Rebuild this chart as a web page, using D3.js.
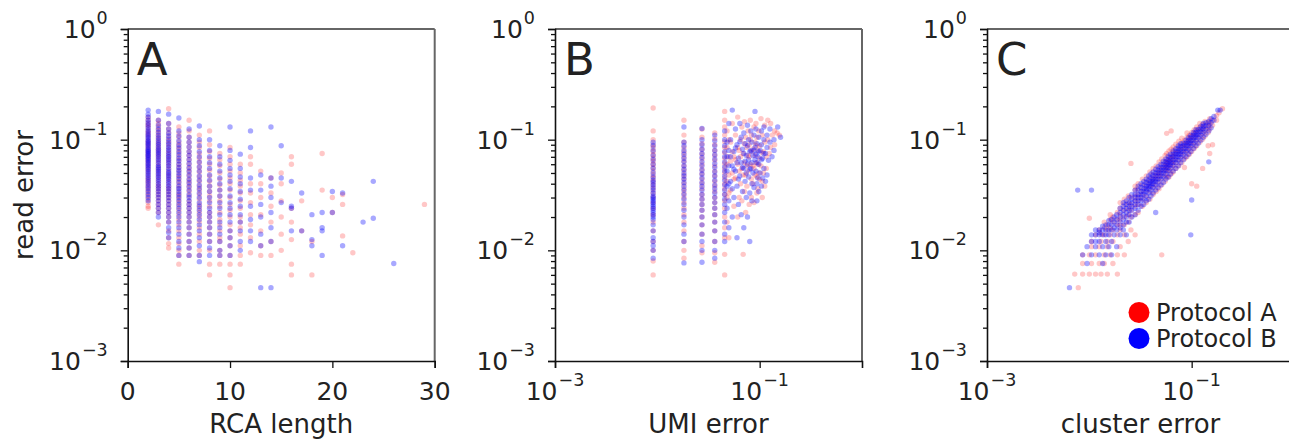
<!DOCTYPE html>
<html>
<head>
<meta charset="utf-8">
<script src="https://cdn.jsdelivr.net/npm/d3@7"></script>
<style>
body { margin: 0; background: #fff; }
text { font-family: "DejaVu Sans", Verdana, sans-serif; fill: #222; }
</style>
</head>
<body>
<svg id="chart" width="1289" height="444"></svg>
<script>
// read error values are in units of 1e-3 (per mille), columns are [x, [y, y, ...]]

// A: RCA length vs read error
var rcaProtoA = [
  [2, [160,150,140,135,128,120,115,110,104,98,94,90,86,82,78,75,72,69,66,63,60,57,54,51,48,45,43,41,39,37,35,33,31,29,27,25,24]],
  [3, [150,140,130,122,115,108,102,96,91,86,82,78,74,70,66,62,58,55,52,49,46,43,40,38,36,34,32,30,28,26,24,22,17]],
  [4, [190,140,125,115,105,98,92,86,80,75,70,66,62,58,54,50,47,44,41,38,36,34,32,30,28,26,24,22,20,18,15,13,11.5,10.5]],
  [5, [130,115,105,95,88,82,76,70,65,60,56,52,48,45,42,39,36,33,31,29,27,25,23,21,19,17,15,13,11.5,10,9,7.5]],
  [6, [150,120,105,95,86,78,72,66,60,55,51,47,43,40,37,34,31,28,26,24,22,20,18,16,14,12,10.5,9]],
  [7, [110,95,85,75,68,62,56,51,46,42,38,35,32,29,26,24,22,20,18,16,14,12,10,9]],
  [8, [120,90,78,68,60,53,47,42,38,34,31,28,25,22,20,18,16,14,12,10,7.5,6]],
  [9, [75,66,58,50,44,39,35,31,28,25,22,19,17,15,13,12,10,9,7.5]],
  [10, [85,70,60,52,45,40,35,30,26,23,20,17,15,13,11,9,7.5,6,4.6]],
  [11, [60,50,43,38,33,28,24,20,18,16,14,11,9,7.5]],
  [12, [70,60,40,33,27,21,17,13,9.5]],
  [13, [52,40,30,21,15,11,9]],
  [14, [45,33,25,18,12,9]],
  [15, [50,40,28,20,14,10]],
  [16, [70,60,24,18,12.5,7.5,6]],
  [17, [28,15]],
  [18, [12,6]],
  [19, [75,35]],
  [20, [30,22]],
  [21, [32,26,13.5]],
  [22, [9.5]],
  [29, [26]]
];
var rcaProtoB = [
  [2, [185,170,160,150,142,135,128,122,117,112,108,104,100,97,94,91,88,85,82,80,78,76,74,72,70,68,66,64,62,60,58,56,54,52,50,48,46,44,42,40,38,36,34,32,30,28]],
  [3, [180,150,135,125,117,110,104,99,94,90,86,82,79,76,73,70,67,64,61,58,56,54,52,50,48,46,44,42,40,38,36,34,32,30,28,26,24,22,20]],
  [4, [170,140,125,115,108,101,95,90,85,81,77,73,70,67,64,61,58,55,52,50,48,46,44,42,40,38,36,34,32,30,28,26,24,22,20,18,16,14.5,13]],
  [5, [157,120,108,98,90,84,78,73,68,64,60,56,53,50,47,44,41,38,36,34,32,30,28,26,24,22,20,18,16,14,12,10.5,9]],
  [6, [125,105,95,86,78,72,66,61,56,52,48,44,41,38,35,32,30,28,26,24,22,20,18,16,14,12,10.5,9]],
  [7, [133,100,88,78,70,63,57,52,47,43,39,36,33,30,27,25,23,21,19,17,15,13,11,9,7.9]],
  [8, [100,80,70,62,55,48,43,38,34,30,27,24,22,20,18,16,14,12,10.5,9]],
  [9, [88,70,60,52,45,40,35,31,27,24,21,18,16,14,12,10,9]],
  [10, [130,80,65,55,48,42,36,31,27,24,21,18,15,13,11,9]],
  [11, [74,55,46,40,34,29,25,21,18,15,12,10]],
  [12, [120,85,45,35,25,19,15,12]],
  [13, [48,35,26,20,14,11,4.6]],
  [14, [130,45,38,30,22,16,12,4.6]],
  [15, [88,45,27]],
  [16, [42,25,24,15]],
  [17, [33,15]],
  [18, [21,12.5,11]],
  [19, [22,16,15,9]],
  [20, [34,22]],
  [21, [33,11]],
  [23, [18]],
  [24, [42,19.5]],
  [26, [7.6]]
];

// B: UMI error (per mille) vs read error
var umiProtoA = [
  [9.1, [193,120,100,90,84,78,73,68,64,60,56,52,48,45,42,39,36,33,30,27,24,21,18,15,12,10,8,6]],
  [18.2, [150,110,95,85,77,70,64,58,53,48,44,40,36,33,30,27,24,21,18,15,12,10,8.5]],
  [27.3, [125,105,92,82,74,67,60,54,49,44,40,36,32,29,26,23,20,17,14,11,9.5]],
  [36.4, [115,102,90,80,72,65,58,52,47,42,38,34,30,27,24,21,18,15,12,9.5,7.8]],
  [45.5, [180,150,130,110,96,85,76,68,61,55,50,45,40,36,32,28,24,20,16,13,9.2,6]],
  [48, [120,85,60,42,30,18]], [50, [100,70,48,33,13]],
  [52, [95,64,35]], [54, [140,78,50]], [56, [70,44,25]], [58, [110,66,45]], [61, [160,85,60,20]],
  [63, [80,52,30]], [65, [100,70,40]], [67, [130,55,28]], [69, [75,48,9.2]], [71, [145,92,62,34]],
  [73, [105,48,22]], [75, [85,58,38]], [77, [120,72,52]], [79, [90,70,26]], [81, [150,100,60]],
  [83, [110,78,44,30]], [86, [82,58,40]], [88, [130,55,27]], [90, [95,72,48]], [92, [140,88,62]],
  [94, [105,46,33]], [96, [80,60,36]], [98, [120,50]], [100, [88,68,44]], [103, [155,58]],
  [106, [110,76,42,30]], [109, [78,50]], [112, [135,95,38]], [116, [70,55]], [120, [150,100]],
  [124, [75]], [128, [140,85]], [133, [110]], [140, [120,90]], [148, [115]], [156, [110]]
];
var umiProtoB = [
  [9.1, [95,88,80,72,66,60,55,50,46,43,41,39,37,35,33,31,30,29,28,27,26,25,24,23,22,21,20,19,17,15,13,12,11,10,8.5]],
  [18.2, [130,95,88,80,74,68,63,58,54,50,47,44,41,38,35,32,29,26,23,20,17,14,12,7.7]],
  [27.3, [126,100,90,82,75,69,63,58,53,49,45,41,38,35,32,29,26,23,20,17,14,12,10,7.8]],
  [36.4, [110,98,88,80,73,67,61,56,51,47,43,39,36,33,30,27,24,21,18,15,12,10,8.5]],
  [45.5, [120,100,88,78,70,63,57,52,47,43,39,35,32,29,26,22,18,14,12]],
  [48, [95,70,52,38,24]], [50, [140,80,58,40,28,16]],
  [52, [100,70,42]], [54, [185,58,36,20]], [56, [78,54,30]], [58, [125,84,52]], [60, [90,62,38,13]],
  [62, [68,44,26]], [64, [140,96,47]], [66, [105,62,21]], [68, [82,56,34]], [70, [115,75,55,16]],
  [72, [92,64,42]], [74, [72,50,30]], [76, [135,88,60,20]], [78, [100,66,46]], [80, [78,54,33,12]],
  [82, [120,80,55]], [84, [95,62,40,28]], [86, [72,50]], [88, [110,80,37]], [90, [180,85,66]],
  [92, [125,74,52]], [94, [92,62,40,28]], [96, [70,45]], [98, [105,78,60,34]], [101, [80,50]],
  [104, [120,90,66,38]], [107, [68,45]], [110, [130,100,75,55]], [114, [75,42]], [118, [110,85,48]],
  [122, [65]], [126, [125,95]], [132, [70]], [138, [100,80]], [150, [130]], [160, [105]]
];

// C: cluster error (per mille) vs read error
var clusterProtoA = [
  [7.2,[6.1]], [7.8,[4.6]], [8.6,[6.1,7.6,9.1]], [10,[6.1,9.1,19.5]], [10.5,[7.6,10.8,12]],
  [11.5,[6.1,9.1,13.8]], [12.5,[7.6,10.8,15.3]], [13,[6.1,12,14]], [14,[7.6,9.1,13.8,16,18]],
  [15,[6.1,10.8,12,15.3,17]], [16,[9.1,13.8,16,19,21]], [17,[7.6,12,15.3,18,20]],
  [18.8,[6.1,9.1,13.8,17,19,22]], [20,[10.8,15.3,17,19,21,24,27]], [22,[9.1,13.8,17,20,23,26,29]],
  [24,[12,18,21,24,27,31]], [25.5,[15.3,20,23,26,30,61]], [28,[13.8,21,25,28,31,35,38]],
  [30,[22,26,29,32,36,40]], [33,[25,29,32,35,39,44]], [36,[27,31,35,38,42,47]],
  [39,[29,34,38,41,45,51]], [42,[32,37,41,44,48,55]], [45,[34,39,44,47,51,58]],
  [48,[36,42,47,50,55,63]], [51,[9.1,39,45,50,54,59,67]], [55,[42,48,54,58,63,72]],
  [57,[114,46,52,57,61,66,75]], [60,[46,53,59,64,69,79]], [63,[120,49,56,62,67,72,82]],
  [66,[51,59,65,71,77,86]], [70,[55,62,69,75,81,91]], [75,[58,66,74,80,87,97]],
  [80,[62,71,79,86,93,103]], [85,[56,67,76,84,91,99]], [90,[70,80,89,96,105,115]],
  [95,[74,84,94,102,110]], [100,[40,78,89,99,107,116]], [106,[83,94,105,113,123]],
  [112,[38,88,100,111,120,130]], [120,[95,107,119,128,140]], [128,[55,101,114,126,137]],
  [135,[108,121,133,146]], [145,[88,116,130,143]], [150,[75,125,140,155]], [160,[90,135,150]],
  [175,[150,165]], [185,[175]], [200,[190]]
];
var clusterProtoB = [
  [6.4,[4.6]], [7.7,[35]], [8.6,[9.1]], [9.5,[7.6,10.8]], [10.5,[35,9.1,12,13.8]],
  [11.5,[10.8,12,13.8,15.3]], [12.5,[9.1,12,13.8,15.3,14.5]], [13.5,[7.6,10.8,13.8,15.3,16.5]],
  [14.5,[9.1,12,13.8,15.3,17]], [15.5,[10.8,13.8,15.3,17,18.5]], [16.5,[9.1,12,15.3,17,19]],
  [17.5,[13.8,16,18,20]], [18.5,[10.8,15.3,17,19,21]], [20,[13.8,16,18,20,22,24]],
  [21.5,[15.3,17,19,21,23,25,27]], [23,[13.8,18,20,22,24,26,28]], [24.5,[18,21,23,25,27,30]],
  [26,[20,23,25,27,29,32]], [28,[21,24,26,28,30,32,35]], [30,[23,26,28,30,32,35,38]],
  [32,[25,28,30,32,34,37,40]], [34,[26,29,32,34,36,39,42]], [36,[28,31,34,36,38,41,44]],
  [38,[29,33,36,38,40,43,47]], [40,[31,35,38,40,42,45,49]], [42,[33,37,40,42,44,47,51]],
  [44.5,[22,35,39,42,44,47,50,54]], [47,[37,41,44,47,50,53,57]], [50,[39,44,47,50,53,56,60]],
  [53,[41,46,50,53,56,60,64]], [56,[44,49,53,56,59,63,67]], [59,[46,52,56,59,62,66,71]],
  [62,[49,55,59,62,65,69,74]], [66,[52,58,62,66,70,74,79]], [70,[55,62,66,70,74,78,83]],
  [74,[58,65,70,74,78,83,88]], [78,[62,69,74,78,82,87,92]], [83,[66,73,78,83,88,93]],
  [88,[70,78,83,88,93,99]], [93,[74,82,88,93,98,104]], [98,[13.8,78,87,93,98,104,110]],
  [100,[28.5]], [104,[83,92,99,104,110,116]], [110,[88,98,105,110,116,123]],
  [116,[93,104,111,117,124]], [123,[99,110,118,125,132]], [130,[105,117,125,132,140]],
  [138,[112,125,134,142]], [147,[63,120,134,146]], [155,[128,142,155]], [165,[150,162]],
  [180,[185]], [190,[185]]
];

var protocols = ['Protocol A', 'Protocol B'];
var colors = ['#ff0000', '#0000ff'];
var yTicks = [1e-3, 1e-2, 1e-1, 1];
var logXTicks = [1e-3, 1e-1];
var linXTicks = [0, 10, 20, 30];

var svg = d3.select('#chart');
var top0 = 29, bottom0 = 361, W = 307;

// soft edges on the markers, like the low-res original
svg.append('defs').append('filter').attr('id', 'soft')
  .append('feGaussianBlur').attr('stdDeviation', 0.55);

var y = d3.scaleLog().domain([1e-3, 1]).range([bottom0, top0]);

var minorY = [];
[1e-3, 1e-2, 1e-1].forEach(function(d){
  for (var k = 2; k <= 9; k++) minorY.push(d * k);
});

function flat(cols, xPerMille){
  var out = [];
  cols.forEach(function(c){
    c[1].forEach(function(v){
      out.push([xPerMille ? c[0] / 1000 : c[0], v / 1000]);
    });
  });
  return out;
}

// label like 10^-2 with a superscript
function sciText(sel, e){
  sel.append('tspan').text('10');
  sel.append('tspan')
    .attr('font-size', 17.5)
    .attr('dy', -14)
    .attr('dx', 1)
    .text(e < 0 ? '\u2212' + (-e) : e);
}

function panel(opt){
  var x0 = opt.left;
  var g = svg.append('g');
  var x = opt.log
    ? d3.scaleLog().domain([1e-3, 1]).range([x0, x0 + W])
    : d3.scaleLinear().domain([0, 30]).range([x0, x0 + W]);

  // points, protocol B drawn last
  opt.series.forEach(function(s, i){
    g.append('g').attr('filter', 'url(#soft)').selectAll('circle')
      .data(flat(s, opt.log))
      .enter().append('circle')
      .attr('cx', function(d){ return x(d[0]); })
      .attr('cy', function(d){ return y(d[1]); })
      .attr('r', 2.7)
      .attr('fill', colors[i])
      .attr('fill-opacity', i ? 0.34 : 0.22);
  });

  // top / right frame
  g.append('line').attr('x1', x0).attr('x2', x0 + W).attr('y1', top0).attr('y2', top0)
    .attr('stroke', '#666').attr('stroke-width', 2);
  g.append('line').attr('x1', x0 + W).attr('x2', x0 + W).attr('y1', top0).attr('y2', bottom0)
    .attr('stroke', '#666').attr('stroke-width', 2);

  // y axis
  var ya = g.append('g').attr('transform', 'translate(' + x0 + ',0)');
  ya.call(d3.axisLeft(y).tickValues(yTicks).tickSize(7).tickFormat(''));
  ya.append('g').call(d3.axisLeft(y).tickValues(minorY).tickSize(4).tickFormat(''))
    .select('.domain').remove();
  ya.selectAll('.domain').attr('stroke', '#111').attr('stroke-width', 1.6);
  ya.selectAll('.tick line').attr('stroke', '#111').attr('stroke-width', 1.3);
  yTicks.forEach(function(v){
    ya.append('text')
      .attr('x', -20).attr('y', y(v) + 9)
      .attr('text-anchor', 'end')
      .attr('font-size', 25)
      .call(sciText, Math.round(Math.log10(v)));
  });

  // x axis
  var xa = g.append('g').attr('transform', 'translate(0,' + bottom0 + ')');
  xa.call(d3.axisBottom(x).tickValues(opt.log ? logXTicks : linXTicks).tickSize(7).tickFormat(''));
  xa.selectAll('.domain').attr('stroke', '#111').attr('stroke-width', 1.6);
  xa.selectAll('.tick line').attr('stroke', '#111').attr('stroke-width', 1.3);
  (opt.log ? logXTicks : linXTicks).forEach(function(v){
    var t = xa.append('text')
      .attr('x', x(v)).attr('y', 39)
      .attr('text-anchor', 'middle')
      .attr('font-size', 25);
    if (opt.log) t.call(sciText, Math.round(Math.log10(v)));
    else t.text(v);
  });

  // axis titles and panel letter
  g.append('text')
    .attr('x', x0 + W / 2).attr('y', 433)
    .attr('text-anchor', 'middle').attr('font-size', 26)
    .text(opt.xlabel);
  if (opt.ylabel) {
    g.append('text')
      .attr('transform', 'translate(33,' + ((top0 + bottom0) / 2) + ') rotate(-90)')
      .attr('text-anchor', 'middle').attr('font-size', 26)
      .text(opt.ylabel);
  }
  g.append('text')
    .attr('x', x0 + 9).attr('y', 75)
    .attr('font-size', 45).attr('fill', '#111')
    .text(opt.letter);
  return g;
}

panel({ left: 127.7, log: false, letter: 'A', xlabel: 'RCA length', ylabel: 'read error',
        series: [rcaProtoA, rcaProtoB] });
panel({ left: 555, log: true, letter: 'B', xlabel: 'UMI error',
        series: [umiProtoA, umiProtoB] });
panel({ left: 987, log: true, letter: 'C', xlabel: 'cluster error',
        series: [clusterProtoA, clusterProtoB] });

// legend
var lg = svg.append('g').attr('transform', 'translate(1139,312.5)');
protocols.forEach(function(p, i){
  lg.append('circle').attr('cx', 0).attr('cy', i * 26).attr('r', 10.5).attr('fill', colors[i]);
  lg.append('text').attr('x', 17).attr('y', i * 26 + 8)
    .attr('font-size', 24).text(p);
});
</script>
</body>
</html>
